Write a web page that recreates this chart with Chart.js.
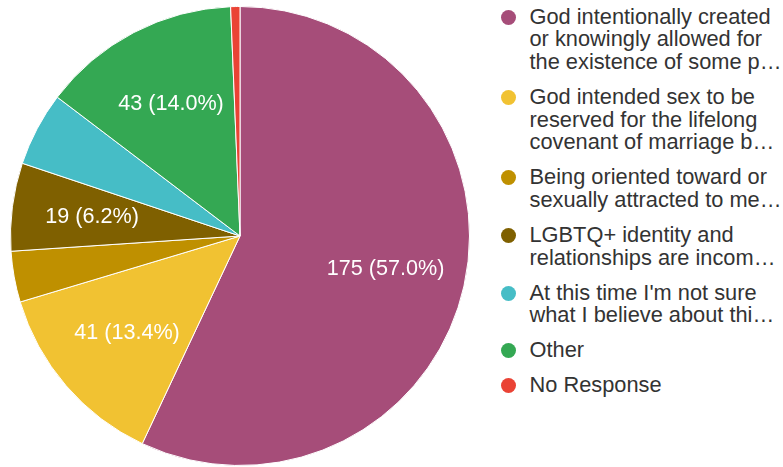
<!DOCTYPE html>
<html>
<head>
<meta charset="utf-8">
<script src="https://cdn.jsdelivr.net/npm/chart.js@4/dist/chart.umd.min.js"></script>
<style>
  html, body { margin: 0; padding: 0; background: #ffffff; }
  body { width: 783px; height: 467px; position: relative; overflow: hidden; font-family: "Liberation Sans", Arial, sans-serif; }
  #wrap { position: absolute; left: 0; top: 0; width: 480px; height: 467px; }
  #legend { position: absolute; left: 500px; top: 5.5px; width: 283px; }
  .item { position: relative; padding-left: 29.5px; margin-bottom: 12.3px; }
  .dot { position: absolute; left: 1px; top: 4px; width: 15px; height: 15px; border-radius: 50%; }
  .line { font-size: 21.8px; line-height: 22.7px; color: #333333; white-space: nowrap; }
</style>
</head>
<body>
<div id="wrap"><canvas id="c" width="480" height="467"></canvas></div>
<div id="legend"></div>
<script>
const categories = [
  ["God intentionally created", "or knowingly allowed for", "the existence of some p\u2026"],
  ["God intended sex to be", "reserved for the lifelong", "covenant of marriage b\u2026"],
  ["Being oriented toward or", "sexually attracted to me\u2026"],
  ["LGBTQ+ identity and", "relationships are incom\u2026"],
  ["At this time I'm not sure", "what I believe about thi\u2026"],
  ["Other"],
  ["No Response"]
];
const responses = [175, 41, 11, 19, 16, 43, 2];
const sliceColors = ["#a64d79", "#f1c232", "#bf9000", "#7f6000", "#46bdc6", "#34a853", "#ea4335"];

const total = responses.reduce((a, b) => a + b, 0);

const sliceLabels = {
  id: 'sliceLabels',
  afterDatasetsDraw(chart) {
    const ctx = chart.ctx;
    const meta = chart.getDatasetMeta(0);
    ctx.save();
    ctx.font = '21.6px "Liberation Sans", Arial, sans-serif';
    ctx.fillStyle = '#ffffff';
    ctx.textAlign = 'center';
    ctx.textBaseline = 'middle';
    meta.data.forEach((arc, i) => {
      const v = responses[i];
      const pct = v / total * 100;
      if (pct < 5.5) return;
      const p = arc.getProps(['x', 'y', 'startAngle', 'endAngle', 'outerRadius'], true);
      const mid = (p.startAngle + p.endAngle) / 2;
      const r = p.outerRadius * 0.65;
      ctx.fillText(v + ' (' + pct.toFixed(1) + '%)', p.x + Math.cos(mid) * r, p.y + Math.sin(mid) * r);
    });
    ctx.restore();
  }
};

new Chart(document.getElementById('c'), {
  type: 'pie',
  data: {
    labels: categories,
    datasets: [{
      data: responses,
      backgroundColor: sliceColors,
      borderColor: '#ffffff',
      borderWidth: 1
    }]
  },
  options: {
    responsive: false,
    animation: false,
    layout: { padding: { left: 10, right: 10, top: 6, bottom: 1 } },
    plugins: { legend: { display: false }, tooltip: { enabled: false } },
    events: []
  },
  plugins: [sliceLabels]
});

const legend = document.getElementById('legend');
categories.forEach((lines, i) => {
  const item = document.createElement('div');
  item.className = 'item';
  const dot = document.createElement('div');
  dot.className = 'dot';
  dot.style.background = sliceColors[i];
  item.appendChild(dot);
  lines.forEach(t => {
    const l = document.createElement('div');
    l.className = 'line';
    l.textContent = t;
    item.appendChild(l);
  });
  legend.appendChild(item);
});
</script>
</body>
</html>
